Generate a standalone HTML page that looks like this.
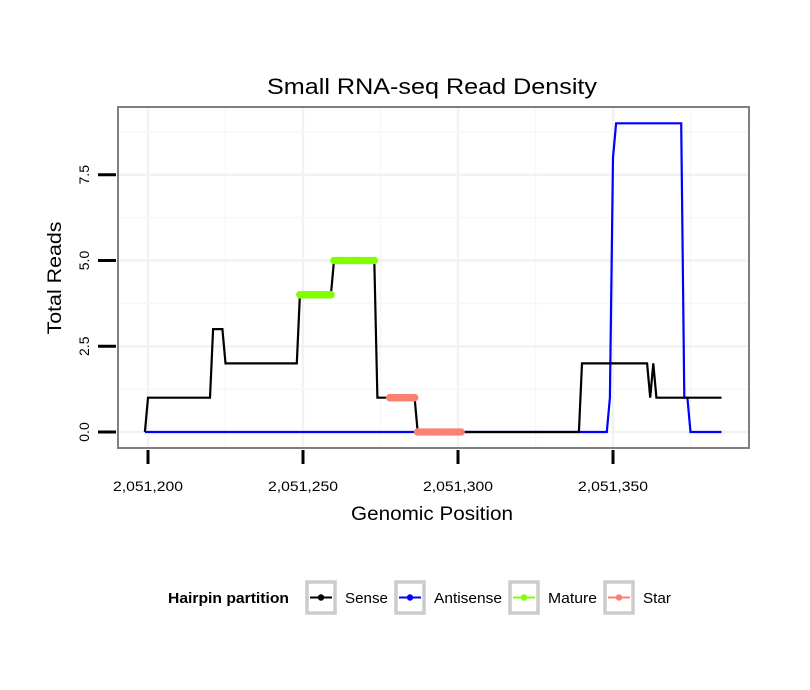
<!DOCTYPE html>
<html><head><meta charset="utf-8"><style>
body{margin:0;background:#fff}
svg{display:block;font-family:"Liberation Sans",sans-serif}
</style></head><body>
<svg id="chart" width="810" height="690" viewBox="0 0 810 690">
<rect width="810" height="690" fill="#fff"/>
<text x="432" y="94" font-size="22" text-anchor="middle" textLength="330" lengthAdjust="spacingAndGlyphs">Small RNA-seq Read Density</text>
<g id="grid"></g>
<g id="marks"></g>
<rect x="118" y="107" width="631" height="341" fill="none" stroke="#7f7f7f" stroke-width="2"/>
<g id="axes"></g>
<text x="432" y="520" font-size="19" text-anchor="middle" textLength="162" lengthAdjust="spacingAndGlyphs">Genomic Position</text>
<text transform="translate(61,278) rotate(-90)" font-size="19" text-anchor="middle" textLength="113" lengthAdjust="spacingAndGlyphs">Total Reads</text>
<g>
<text x="168" y="603" font-size="15" font-weight="bold" textLength="121" lengthAdjust="spacingAndGlyphs">Hairpin partition</text>
<g id="legend-items"></g>
</g>
</svg>
<script>
const xTicks = [2051200, 2051250, 2051300, 2051350];
const xTickLabels = ["2,051,200", "2,051,250", "2,051,300", "2,051,350"];
const yTicks = [0, 2.5, 5, 7.5];
const yTickLabels = ["0.0", "2.5", "5.0", "7.5"];
const senseX = [2051199,2051200,2051220,2051221,2051224,2051225,2051248,2051249,2051259,2051260,2051273,2051274,2051286,2051287,2051339,2051340,2051361,2051362,2051363,2051364,2051385];
const senseY = [0,1,1,3,3,2,2,4,4,5,5,1,1,0,0,2,2,1,2,1,1];
const antiX = [2051199,2051348,2051349,2051350,2051351,2051372,2051373,2051374,2051375,2051385];
const antiY = [0,0,1,8,9,9,1,1,0,0];
const mature4X = [2051249,2051259]; const mature4Y = 4;
const mature5X = [2051260,2051273]; const mature5Y = 5;
const star1X = [2051278,2051286]; const star1Y = 1;
const star0X = [2051287,2051301]; const star0Y = 0;
const legendLabels = ["Sense","Antisense","Mature","Star"];
const legendColors = ["#000000","#0000ff","#7fff00","#fa8072"];
const legendWidths = [43,68,49,28];

const NS = "http://www.w3.org/2000/svg";
const sx = v => 148 + (v - 2051200) * 3.1;
const sy = v => 432 - v * 34.3;
function mk(tag, attrs, parent){const e=document.createElementNS(NS,tag);for(const k in attrs)e.setAttribute(k,attrs[k]);parent.appendChild(e);return e;}
const grid=document.getElementById('grid'), marks=document.getElementById('marks'), axes=document.getElementById('axes');
mk('rect',{x:118,y:107,width:631,height:341,fill:'#fff'},grid);
for(let i=0;i<xTicks.length;i++){
  const l=mk('line',{x1:sx(xTicks[i]),x2:sx(xTicks[i]),y1:108,y2:447,stroke:'#f2f2f2','stroke-width':2.5},grid);
  
  
  if(i<xTicks.length-1){const m=mk('line',{x1:sx(xTicks[i]+25),x2:sx(xTicks[i]+25),y1:108,y2:447,stroke:'#f7f7f7','stroke-width':1.5},grid);
  
  }
  const t=mk('line',{x1:sx(xTicks[i]),x2:sx(xTicks[i]),y1:450,y2:464,stroke:'#000','stroke-width':3},axes);
  
  
  const tx=mk('text',{x:sx(xTicks[i]),y:491,'font-size':14,'text-anchor':'middle',textLength:70,lengthAdjust:'spacingAndGlyphs'},axes);tx.textContent=xTickLabels[i];
  
  
}
{const m=mk('line',{x1:sx(2051375),x2:sx(2051375),y1:108,y2:447,stroke:'#f7f7f7','stroke-width':1.5},grid);

}
for(let i=0;i<yTicks.length;i++){
  const l=mk('line',{x1:119,x2:748,y1:sy(yTicks[i]),y2:sy(yTicks[i]),stroke:'#f2f2f2','stroke-width':2.5},grid);
  
  
  const m=mk('line',{x1:119,x2:748,y1:sy(yTicks[i]+1.25),y2:sy(yTicks[i]+1.25),stroke:'#f7f7f7','stroke-width':1.5},grid);
  
  
  const t=mk('line',{x1:98,x2:116,y1:sy(yTicks[i]),y2:sy(yTicks[i]),stroke:'#000','stroke-width':3},axes);
  
  
  const tx=mk('text',{transform:`translate(${89},${sy(yTicks[i])}) rotate(-90)`,'font-size':14,'text-anchor':'middle'},axes);tx.textContent=yTickLabels[i];
  
  
}
function line(xs,ys,color,name){
  const p=mk('polyline',{points:xs.map((x,i)=>sx(x)+','+sy(ys[i])).join(' '),fill:'none',stroke:color,'stroke-width':2.2,'stroke-linejoin':'miter'},marks);
  
  
}
line(antiX,antiY,'#0000ff','antisense-line');
line(senseX,senseY,'#000000','sense-line');
function run(xr,yv,color,name){
  const g=mk('g',{},marks);
  
  
  mk('line',{x1:sx(xr[0]),x2:sx(xr[1]),y1:sy(yv),y2:sy(yv),stroke:color,'stroke-width':7,'stroke-linecap':'round'},g);
  for(let v=xr[0];v<=xr[1];v++){mk('circle',{cx:sx(v),cy:sy(yv),r:3.8,fill:color},g);}
}
run(mature4X,mature4Y,'#7fff00','mature-run-4');
run(mature5X,mature5Y,'#7fff00','mature-run-5');
run(star1X,star1Y,'#fa8072','star-run-1');
run(star0X,star0Y,'#fa8072','star-run-0');
const li=document.getElementById('legend-items');
const boxX=[305,394,508,603];
for(let i=0;i<legendLabels.length;i++){
  const g=mk('g',{},li);
  
  
  mk('rect',{x:boxX[i]+2,y:582,width:28,height:31,fill:'#fff',stroke:'#cccccc','stroke-width':3.5},g);
  mk('line',{x1:boxX[i]+5,x2:boxX[i]+27,y1:597.5,y2:597.5,stroke:legendColors[i],'stroke-width':2},g);
  mk('circle',{cx:boxX[i]+16,cy:597.5,r:3.2,fill:legendColors[i]},g);
  const t=mk('text',{x:boxX[i]+40,y:603,'font-size':15,textLength:legendWidths[i],lengthAdjust:'spacingAndGlyphs'},g);t.textContent=legendLabels[i];
}
</script>
</body></html>
